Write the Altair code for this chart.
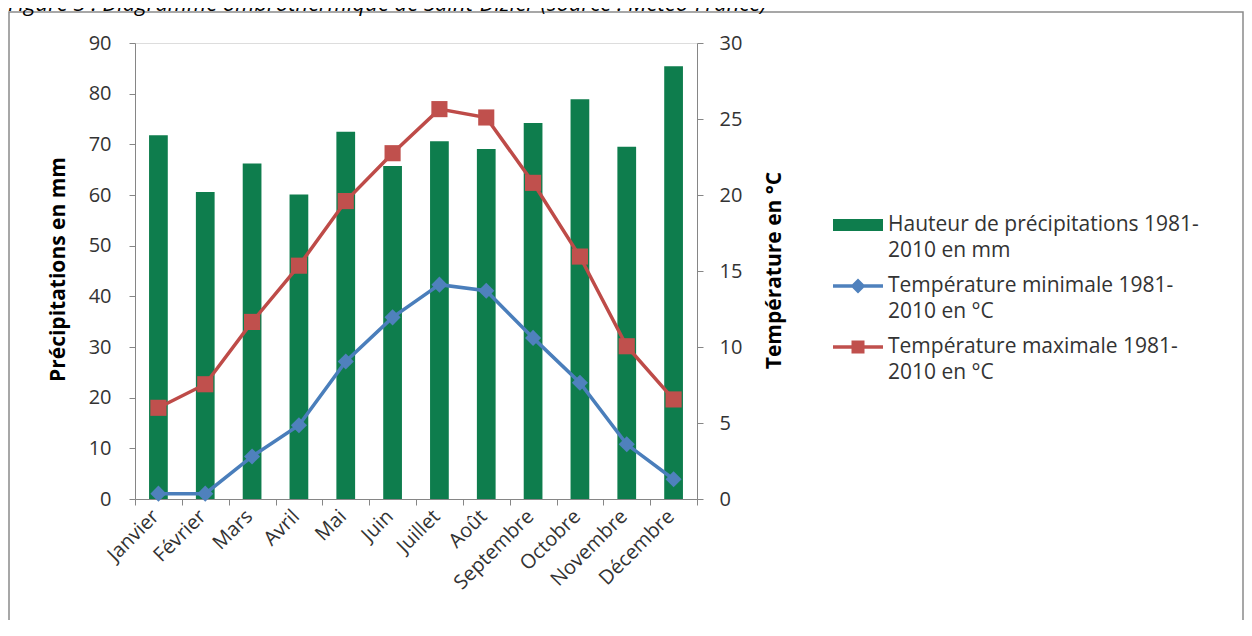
import altair as alt
import pandas as pd

# ---- data ----
months = ["Janvier", "Février", "Mars", "Avril", "Mai", "Juin", "Juillet",
          "Août", "Septembre", "Octobre", "Novembre", "Décembre"]
precip = [71.8, 60.6, 66.2, 60.1, 72.5, 65.7, 70.6, 69.1, 74.2, 78.9, 69.5, 85.4]
tmin = [0.35, 0.35, 2.8, 4.85, 9.05, 11.95, 14.1, 13.7, 10.6, 7.65, 3.6, 1.3]
tmax = [6.0, 7.55, 11.65, 15.35, 19.6, 22.75, 25.65, 25.1, 20.8, 15.95, 10.05, 6.55]

series = ["Hauteur de précipitations 1981-2010 en mm",
          "Température minimale 1981-2010 en °C",
          "Température maximale 1981-2010 en °C"]
title_text = "Figure 3 : Diagramme ombrothermique de Saint-Dizier (source : Météo-France)"
y_left_title = "Précipitations en mm"
y_right_title = "Température en °C"

# ---- styles ----
GREEN = "#0E7D4D"
BLUE = "#4A7EBB"
BLUE_M = "#4F81BD"
RED = "#BE4B48"
RED_M = "#C0504D"
FONT = "Open Sans"
LABEL_COLOR = "#333333"
AXIS_COLOR = "#868686"
FS = 20
TFS = 21
LFS = 21

df = pd.DataFrame({"month": months, "precip": precip, "tmin": tmin, "tmax": tmax})
legend_df = pd.DataFrame({"series": series})
one = pd.DataFrame({"k": [0]})

x_enc = alt.X(
    "month:N", sort=months, title=None,
    scale=alt.Scale(paddingInner=0, paddingOuter=0),
    axis=alt.Axis(labelAngle=315, labelAlign="right", labelBaseline="middle",
                  labelFont=FONT, labelFontSize=FS, labelColor=LABEL_COLOR,
                  labelPadding=8, labelOffset=-3,
                  tickBand="extent", tickSize=6, tickColor=AXIS_COLOR,
                  domainColor=AXIS_COLOR, grid=False),
)

left_axis = alt.Axis(values=list(range(0, 91, 10)), grid=False, orient="left",
                     labelFont=FONT, labelFontSize=FS, labelColor=LABEL_COLOR,
                     labelPadding=18, tickSize=6, tickColor=AXIS_COLOR,
                     domainColor=AXIS_COLOR,
                     title=y_left_title, titleFont=FONT, titleFontSize=TFS,
                     titleFontWeight="bold", titleColor="#000000",
                     titleAngle=270, titleAlign="center", titleBaseline="middle",
                     titleX=-77, titleY=226)

right_axis = alt.Axis(values=list(range(0, 31, 5)), grid=False, orient="right",
                      labelFont=FONT, labelFontSize=FS, labelColor=LABEL_COLOR,
                      labelPadding=16, tickSize=6, tickColor=AXIS_COLOR,
                      domainColor=AXIS_COLOR,
                      title=y_right_title, titleFont=FONT, titleFontSize=TFS,
                      titleFontWeight="bold", titleColor="#000000",
                      titleAngle=270, titleAlign="center", titleBaseline="middle",
                      titleX=77, titleY=227)

t_scale = alt.Scale(domain=[0, 30])

bars = alt.Chart(df).mark_bar(color=GREEN, width=alt.RelativeBandSize(0.4)).encode(
    x=x_enc,
    y=alt.Y("precip:Q", scale=alt.Scale(domain=[0, 90]), axis=left_axis),
)

line_min = alt.Chart(df).mark_line(color=BLUE, strokeWidth=3.5).encode(
    x=x_enc, y=alt.Y("tmin:Q", scale=t_scale, axis=right_axis))
pts_min = alt.Chart(df).mark_point(shape="diamond", filled=True, size=260,
                                   color=BLUE_M, opacity=1).encode(
    x=x_enc, y=alt.Y("tmin:Q", scale=t_scale, axis=right_axis))
line_max = alt.Chart(df).mark_line(color=RED, strokeWidth=3.5).encode(
    x=x_enc, y=alt.Y("tmax:Q", scale=t_scale, axis=right_axis))
pts_max = alt.Chart(df).mark_point(shape="square", filled=True, size=260,
                                   color=RED_M, opacity=1).encode(
    x=x_enc, y=alt.Y("tmax:Q", scale=t_scale, axis=right_axis))

temps = alt.layer(line_min, line_max, pts_min, pts_max)

# legend symbols (custom paths, unit = 25 px at symbolSize 2500)
legend_paths = [
    "M-1,-0.24H1V0.24H-1Z",
    "M-1,-0.07H1V0.07H-1Z M0,-0.3L0.3,0L0,0.3L-0.3,0Z",
    "M-1,-0.07H1V0.07H-1Z M-0.26,-0.26H0.26V0.26H-0.26Z",
]
leg = dict(orient="none", legendX=698, legendY=157, title=None, padding=0,
           labelFont=FONT, labelFontSize=LFS, labelColor=LABEL_COLOR, labelLimit=0,
           labelBaseline="middle", labelOffset=5, symbolSize=2500,
           symbolStrokeWidth=0, rowPadding=0,
           labelExpr="[slice(datum.label, 0, indexof(datum.label, '-') + 1), "
                     "slice(datum.label, indexof(datum.label, '-') + 1)]")
legend_layer = alt.Chart(legend_df).mark_point(filled=True, opacity=1).encode(
    color=alt.Color("series:N", scale=alt.Scale(domain=series, range=[GREEN, BLUE_M, RED_M]),
                    legend=alt.Legend(**leg)),
    shape=alt.Shape("series:N", scale=alt.Scale(domain=series, range=legend_paths),
                    legend=alt.Legend(**leg)),
).transform_filter("false")

frame = alt.Chart(one).mark_rect(fill=None, stroke="#8a8a8a", strokeWidth=1.5).encode(
    x=alt.value(-126), x2=alt.value(1108), y=alt.value(-31), y2=alt.value(600))

title = alt.Chart(one).mark_text(text=title_text, align="left", baseline="alphabetic",
                                 font=FONT, fontSize=22, fontStyle="italic",
                                 color="#000000").encode(
    x=alt.value(-127), y=alt.value(-32))

chart = alt.layer(frame, title, bars, temps, legend_layer).resolve_scale(
    y="independent"
).properties(
    width=562, height=456,
    padding={"left": 127, "top": 35, "right": 547, "bottom": 121},
    autosize=alt.AutoSizeParams(type="none"),
).configure_view(stroke=None).configure(
    background="white",
    style={"guide-label": {"lineHeight": 26}},
)

chart.save("out.html", embed_options={"renderer": "svg", "actions": False})
